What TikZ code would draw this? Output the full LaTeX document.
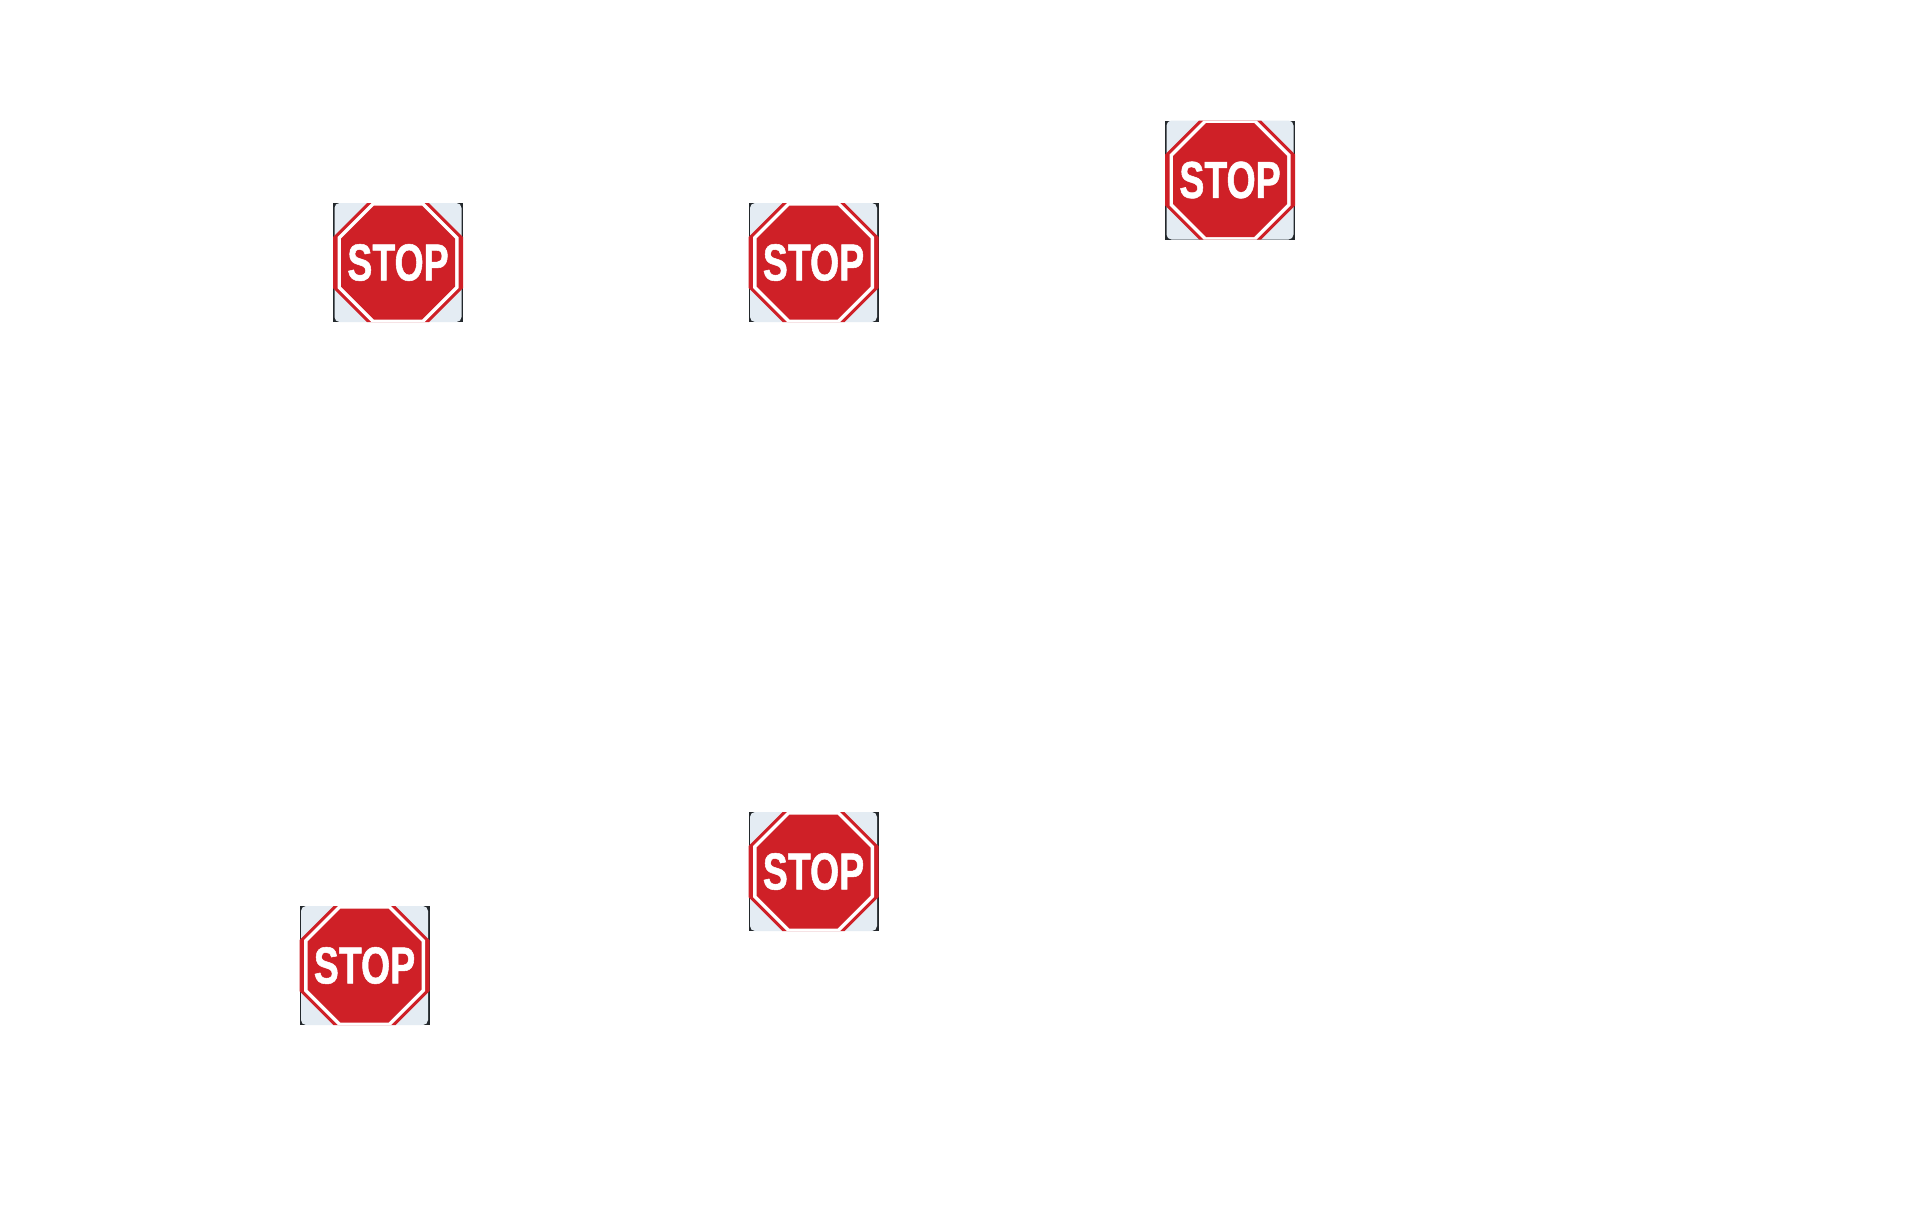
\documentclass[tikz,border=0pt]{standalone}
\usepackage{fontspec}
\newfontfamily\stopfont[FakeStretch=0.72,FakeBold=1]{Liberation Sans}
\definecolor{signred}{HTML}{CF2027}
\definecolor{signback}{HTML}{E4ECF3}
\definecolor{signdark}{HTML}{23282C}
\tikzset{
  stoptext/.style = {text=white, inner sep=0pt, font=\stopfont\bfseries\fontsize{52}{52}\selectfont},
  pics/stopsign/.style = {code = {
    \fill [signdark] (-65,-59.5) rectangle (65,59.5);
    \fill [signback, rounded corners=5pt] (-63.5,-59.5) rectangle (63.5,59.5);
    \fill [signred] (-65,-25.5) -- (-31,-59.5) -- (31,-59.5) -- (65,-25.5) -- (65,25.5) -- (31,59.5) -- (-31,59.5) -- (-65,25.5) -- cycle;
    \fill [white] (-60.5,-25.5) -- (-26.5,-59.5) -- (26.5,-59.5) -- (60.5,-25.5) -- (60.5,25.5) -- (26.5,59.5) -- (-26.5,59.5) -- (-60.5,25.5) -- cycle;
    \fill [signred] (-57,-24) -- (-24,-57) -- (24,-57) -- (57,-24) -- (57,24) -- (24,57) -- (-24,57) -- (-57,24) -- cycle;
    \node [stoptext] (-label) at (0,0) {STOP};
  }}
}
\begin{document}
\begin{tikzpicture}[x=1pt, y=-1pt]
  \useasboundingbox [fill=white] (0,0) rectangle (1920,1208);
  \pic (topleft) at (398,262.5) {stopsign};
  \pic (topmid) at (813.5,262.5) {stopsign};
  \pic (topright) at (1230,180) {stopsign};
  \pic (lowmid) at (813.5,871.5) {stopsign};
  \pic (lowleft) at (364.5,965.5) {stopsign};
\end{tikzpicture}
\end{document}
